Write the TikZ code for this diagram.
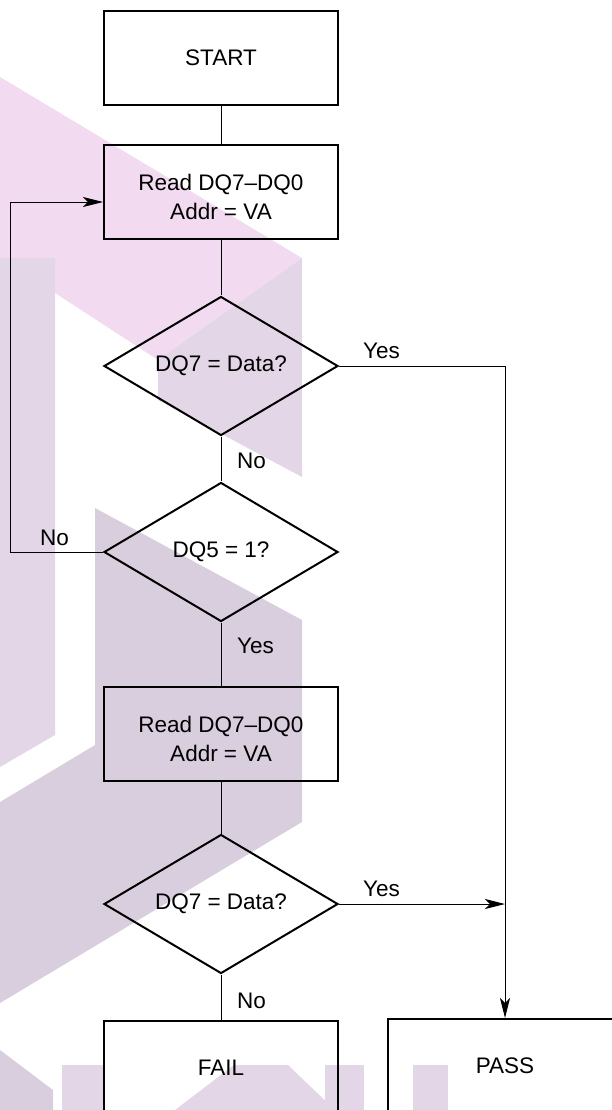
\documentclass[tikz,border=0pt]{standalone}
\usepackage{fontspec}
\setmainfont{Liberation Sans}
\usetikzlibrary{shapes.geometric,calc,arrows.meta}
\definecolor{wmpink}{RGB}{242,218,240}
\definecolor{wmgray}{RGB}{227,214,230}
\definecolor{wmdark}{RGB}{217,206,222}
\tikzset{
    box/.style = {
        draw, rectangle, align=center,
        line width=2pt,
        inner sep=0,
        minimum width=234pt,
        minimum height=94pt,
        font=\fontsize{22.5}{29}\selectfont
    },
    decision/.style = {
        draw, diamond, align=center,
        line width=2pt,
        inner sep=0, aspect=1.68,
        minimum width=234pt,
        minimum height=139pt,
        font=\fontsize{22.5}{29}\selectfont
    },
    lbl/.style = {
        inner sep=0, anchor=base west,
        font=\fontsize{22.5}{29}\selectfont
    },
    wire/.style = {line width=1pt},
    arr/.style = {
        wire, -{Stealth[length=20pt,width=10pt,inset=5pt]}
    }
}
% first line pushed down a little
\newcommand{\toprule}{\rule{0pt}{26pt}}

\begin{document}
\begin{tikzpicture}[x=1pt,y=-1pt]
\useasboundingbox (0,0) rectangle (611,1110);

% 1. watermark in the background
\fill[wmpink] (0,77) -- (302,258) -- (158,360) -- (55,293) -- (55,258) -- (0,258) -- cycle;
\fill[wmgray] (0,258) -- (55,258) -- (55,735) -- (0,767) -- cycle;
\fill[wmgray] (158,360) -- (302,258) -- (302,477) -- (158,400) -- cycle;
\fill[wmdark] (95,508) -- (302,620) -- (302,822) -- (0,1003) -- (0,802) -- (95,745) -- cycle;
\fill[wmdark] (0,1050) -- (53,1090) -- (53,1110) -- (0,1110) -- cycle;
\fill[wmgray] (62,1065) rectangle (103,1110);
\fill[wmgray] (175,1110) -- (234,1065) -- (288,1065) -- (335,1110) -- cycle;
\fill[wmgray] (325,1065) rectangle (364,1110);
\fill[wmgray] (413,1065) rectangle (448,1110);

% 2. boxes and decisions
\node[box]      (start) at (221,58)   {START};
\node[box]      (read1) at (221,192)  {\toprule Read DQ7–DQ0\\ Addr = VA};
\node[decision] (dec1)  at (221,366)  {DQ7 = Data?};
\node[decision] (dec2)  at (221,552)  {DQ5 = 1?};
\node[box]      (read2) at (221,734)  {\toprule Read DQ7–DQ0\\ Addr = VA};
\node[decision] (dec3)  at (221,904)  {DQ7 = Data?};
\node[box]      (fail)  at (221,1068) {FAIL};
\node[box]      (pass)  at (505,1066) {PASS};

% 3. connectors
\draw[wire] (start) -- (read1);
\draw[wire] (read1) -- (dec1);
\draw[wire] (dec1)  -- (dec2);
\draw[wire] (dec2)  -- (read2);
\draw[wire] (read2) -- (dec3);
\draw[wire] (dec3)  -- (fail);

\coordinate (back) at ($(dec2.west)+(-93,0)$);
\coordinate (in1)  at ($(read1.west)+(0,10)$);
\draw[arr] (dec2.west) -- (back) |- (in1);
\draw[arr] (dec1.east) -| (pass.north);
\draw[arr] (dec3.east) -- (dec3.east -| pass.north);

% 4. labels
\node[lbl] (yes1) at ($(dec1.east)+(24,-8)$)   {Yes};
\node[lbl] (no1)  at ($(dec1.south)+(16,32)$)  {No};
\node[lbl] (no2)  at ($(dec2.west)+(-63,-7)$)  {No};
\node[lbl] (yes2) at ($(dec2.south)+(16,31)$)  {Yes};
\node[lbl] (yes3) at ($(dec3.east)+(24,-8)$)   {Yes};
\node[lbl] (no3)  at ($(dec3.south)+(16,34)$)  {No};

\end{tikzpicture}
\end{document}
